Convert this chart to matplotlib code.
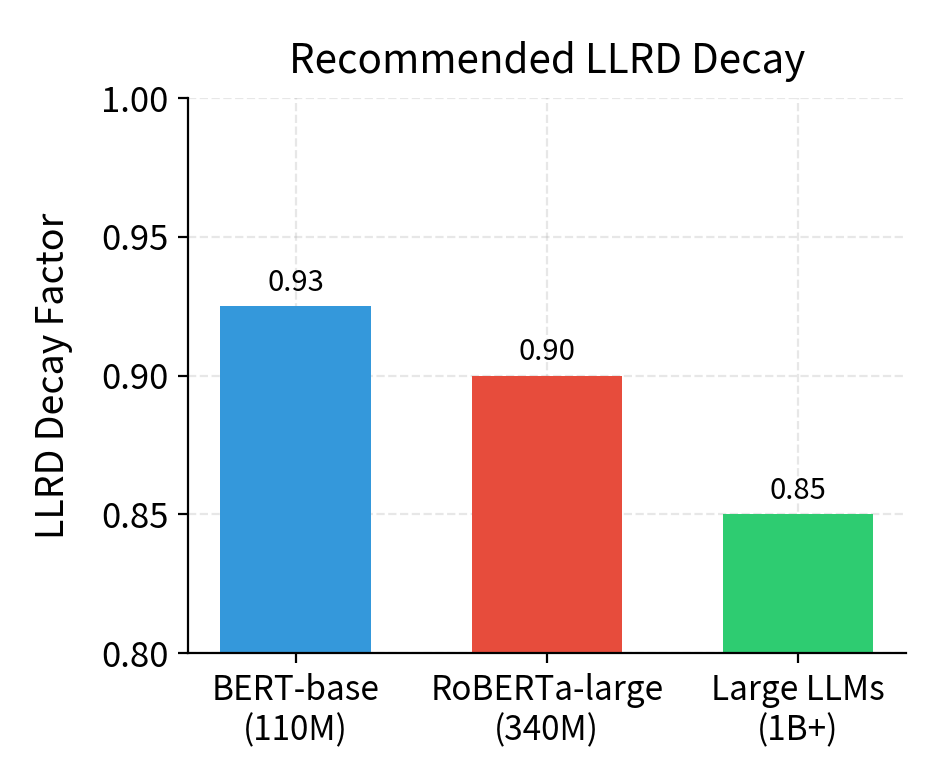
import matplotlib
matplotlib.use("Agg")
import matplotlib.pyplot as plt

plt.rcParams['font.family'] = ['Noto Sans CJK KR', 'DejaVu Sans']

models = ["BERT-base\n(110M)", "RoBERTa-large\n(340M)", "Large LLMs\n(1B+)"]
decay = [0.925, 0.90, 0.85]
colors = ["#3498db", "#e74c3c", "#2ecc71"]

fig, ax = plt.subplots(figsize=(4.67, 3.92), dpi=200)
bars = ax.bar(models, decay, color=colors, width=0.6, zorder=2)
for b, v in zip(bars, decay):
    ax.text(b.get_x() + b.get_width() / 2, v + 0.003, f"{v:.2f}",
            ha="center", va="bottom", fontsize=10.5)

ax.set_ylim(0.8, 1.0)
ax.set_yticks([0.80, 0.85, 0.90, 0.95, 1.00])
ax.set_ylabel("LLRD Decay Factor", fontsize=13.5, labelpad=10)
ax.set_title("Recommended LLRD Decay", fontsize=14.5, pad=9)
ax.grid(True, linestyle="--", alpha=0.3, zorder=0)
ax.spines["top"].set_visible(False)
ax.spines["right"].set_visible(False)
ax.tick_params(axis="y", labelsize=12.5)
ax.tick_params(axis="x", labelsize=12)

fig.subplots_adjust(left=0.201, right=0.970, top=0.875, bottom=0.167)
fig.savefig("out.png", dpi=200)
